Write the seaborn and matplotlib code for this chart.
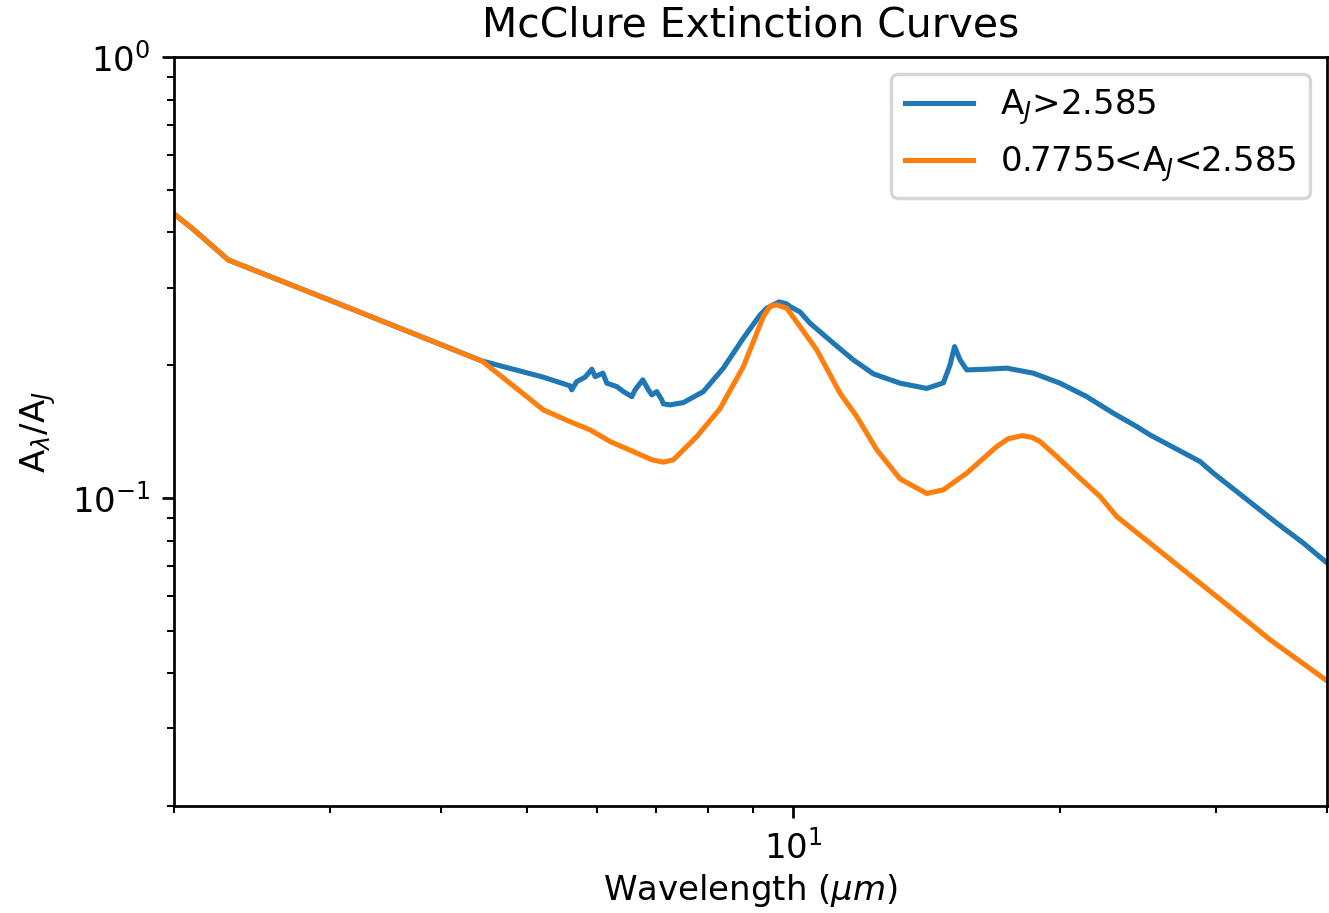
import numpy as np
import pandas as pd
import matplotlib
matplotlib.use("Agg")
import matplotlib.pyplot as plt
import seaborn as sns

# Shared part of both curves (wavelength in micron, A_lambda/A_J)
shared_wl = [2.000, 2.085, 2.149, 2.303, 3.052, 4.449]
shared_ratio = [0.4405, 0.4123, 0.3913, 0.3465, 0.2768, 0.2045]

# A_J > 2.585
blue_wl = [5.222, 5.596, 5.621, 5.694, 5.819, 5.923, 5.974, 6.095, 6.158, 6.320,
           6.429, 6.571, 6.627, 6.761, 6.860, 6.921, 7.011, 7.103, 7.132, 7.258,
           7.513, 7.913, 8.335, 8.780, 9.170, 9.330, 9.633, 9.828, 9.912, 10.173,
           10.441, 11.093, 11.684, 12.309, 13.193, 14.140, 14.763, 15.022, 15.199, 15.417,
           15.688, 16.523, 17.404, 18.651, 19.991, 21.423, 22.960, 24.400, 25.257, 28.758,
           29.770, 35.115, 37.618, 40.0]
blue_ratio = [0.1878, 0.1795, 0.1758, 0.1835, 0.1878, 0.1958, 0.1884, 0.1918, 0.1820, 0.1788,
              0.1742, 0.1697, 0.1758, 0.1852, 0.1758, 0.1712, 0.1742, 0.1668, 0.1634, 0.1625,
              0.1645, 0.1742, 0.1969, 0.2303, 0.2600, 0.2693, 0.2783, 0.2754, 0.2716, 0.2641,
              0.2490, 0.2243, 0.2056, 0.1911, 0.1820, 0.1771, 0.1823, 0.2003, 0.2203, 0.2056,
              0.1951, 0.1958, 0.1969, 0.1918, 0.1820, 0.1697, 0.1556, 0.1451, 0.1389, 0.1209,
              0.1138, 0.08761, 0.07896, 0.07121]

# 0.7755 < A_J < 2.585
orange_wl = [4.788, 5.222, 5.596, 5.897, 6.211, 6.657, 6.921, 7.132, 7.320, 7.779,
             8.264, 8.780, 9.090, 9.248, 9.410, 9.576, 9.828, 10.173, 10.624, 11.287,
             11.788, 12.417, 13.193, 14.140, 14.763, 15.688, 16.956, 17.463, 18.110, 18.588,
             18.979, 19.820, 21.053, 22.181, 23.164, 27.541, 31.355, 34.509, 40.0]
orange_ratio = [0.1820, 0.1583, 0.1489, 0.1426, 0.1342, 0.1263, 0.1220, 0.1205, 0.1220, 0.1377,
                0.1594, 0.1985, 0.2363, 0.2577, 0.2718, 0.2740, 0.2693, 0.2446, 0.2166, 0.1727,
                0.1529, 0.1285, 0.1104, 0.1023, 0.1043, 0.1138, 0.1307, 0.1361, 0.1384, 0.1371,
                0.1342, 0.1241, 0.1108, 0.1007, 0.0907, 0.06866, 0.05572, 0.04764, 0.03846]

labels = ["A$_J$>2.585", "0.7755<A$_J$<2.585"]
colors = ["#1f77b4", "#ff7f0e"]

df = pd.concat([
    pd.DataFrame({"wl": shared_wl + blue_wl, "ratio": shared_ratio + blue_ratio, "curve": labels[0]}),
    pd.DataFrame({"wl": shared_wl + orange_wl, "ratio": shared_ratio + orange_ratio, "curve": labels[1]}),
], ignore_index=True)

DPI = 245
fig = plt.figure(figsize=(1329 / DPI, 913 / DPI), dpi=DPI)
ax = fig.add_axes([174 / 1329, 1 - 806 / 913, (1327 - 174) / 1329, (806 - 57) / 913])

sns.lineplot(data=df, x="wl", y="ratio", hue="curve", hue_order=labels,
             palette=colors, estimator=None, linewidth=1.5, legend=False, ax=ax)

ax.set_xscale("log")
ax.set_yscale("log")
ax.set_xlim(2, 40)
ax.set_ylim(0.02, 1)
ax.set_xlabel("Wavelength ($\\mu m$)", labelpad=2)
ax.set_ylabel("A$_\\lambda$/A$_J$")
ax.set_title("McClure Extinction Curves", fontsize=12)

lines = ax.get_lines()[:2]
ax.legend(lines, labels, loc="upper right")

fig.savefig("out.png", dpi=DPI)
